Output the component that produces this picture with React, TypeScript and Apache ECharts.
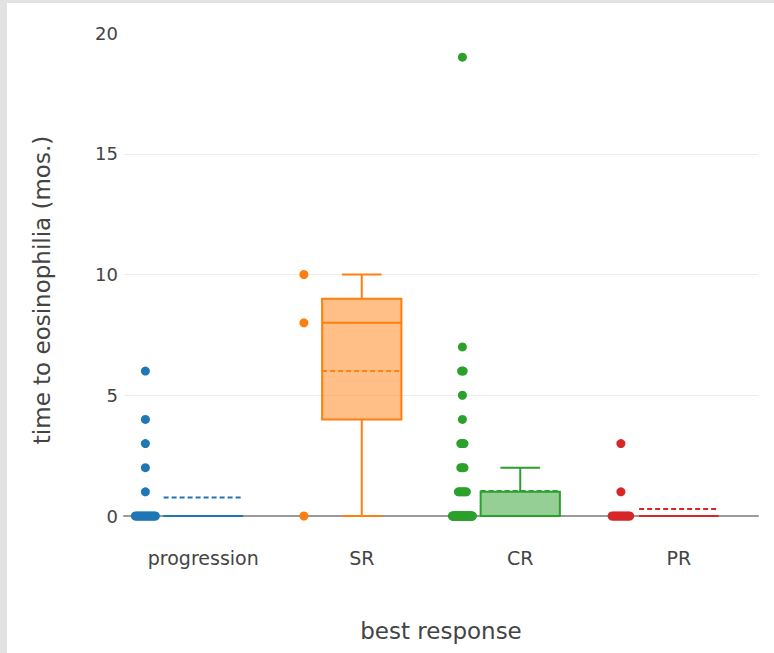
import React, { useEffect, useRef } from "react";
import * as echarts from "echarts";

// Best-response groups and their colours
const categories = ["progression", "SR", "CR", "PR"];
const colors = ["#1f77b4", "#ff7f0e", "#2ca02c", "#d62728"];

// Y axis ticks (months)
const yMin = 0;
const yMax = 20;
const yStep = 5;

// Individual observations: time to eosinophilia (months) per group
const progression = [
  0, 0, 0, 0, 0, 0, 0, 0, 0, 0, 0, 0, 0, 0, 0, 0,
  1, 2, 3, 4, 6,
];
const sr = [0, 8, 10];
const cr = [
  0, 0, 0, 0, 0, 0, 0, 0, 0, 0, 0, 0, 0, 0, 0, 0,
  0, 0, 0, 0, 0, 0, 0, 0, 0, 0, 0, 0, 0, 0, 0, 0,
  0, 0, 0, 0, 0, 0, 0, 0, 0, 0, 0, 0, 0, 0, 0, 0,
  1, 1, 1, 1, 1, 1,
  2, 2, 2,
  3, 3, 3,
  4, 5, 6, 6, 7, 19,
];
const pr = [0, 0, 0, 0, 0, 0, 0, 0, 0, 0, 0, 0, 1, 3];

const groups = [progression, sr, cr, pr];

const FONT = "DejaVu Sans, Liberation Sans, Arial, sans-serif";
const TEXT = "#444";

function quantile(sorted: number[], p: number) {
  const pos = p * (sorted.length - 1);
  const lo = Math.floor(pos);
  const hi = Math.ceil(pos);
  return sorted[lo] + (sorted[hi] - sorted[lo]) * (pos - lo);
}

// [lowWhisker, q1, median, q3, highWhisker, mean]
function boxStats(values: number[]) {
  const s = [...values].sort((a, b) => a - b);
  const q1 = quantile(s, 0.25);
  const med = quantile(s, 0.5);
  const q3 = quantile(s, 0.75);
  const iqr = q3 - q1;
  const lo = Math.min(...s.filter((v) => v >= q1 - 1.5 * iqr));
  const hi = Math.max(...s.filter((v) => v <= q3 + 1.5 * iqr));
  const mean = s.reduce((a, b) => a + b, 0) / s.length;
  return [lo, q1, med, q3, hi, mean];
}

// Points sit to the left of each box; repeated values are fanned out sideways
const POINT_SHIFT = -0.365; // in category units
const BAND_PX = 158.5;
function pointPositions(values: number[], idx: number) {
  const counts = new Map<number, number>();
  values.forEach((v) => counts.set(v, (counts.get(v) || 0) + 1));
  const seen = new Map<number, number>();
  return values.map((v) => {
    const c = counts.get(v) || 1;
    const k = seen.get(v) || 0;
    seen.set(v, k + 1);
    const spread = Math.min(20, 1.6 * (c - 1));
    const off = c > 1 ? (k / (c - 1) - 0.5) * spread : 0;
    return [idx + POINT_SHIFT + off / BAND_PX, v];
  });
}

export default function App() {
  const ref = useRef<HTMLDivElement>(null);

  useEffect(() => {
    if (!ref.current) return;
    const chart = echarts.init(ref.current, undefined, { renderer: "svg" });

    const boxData = groups.map((g, i) => [i, ...boxStats(g)]);

    const scatterSeries = groups.map((g, i) => ({
      type: "scatter",
      name: categories[i],
      xAxisIndex: 1,
      yAxisIndex: 0,
      clip: false,
      symbol: "circle",
      symbolSize: 9,
      itemStyle: { color: colors[i], opacity: 1 },
      data: pointPositions(g, i),
      z: 3,
    }));

    chart.setOption({
      animation: false,
      backgroundColor: "#ffffff",
      textStyle: { fontFamily: FONT },
      grid: { left: 117, right: 16, top: 30, bottom: 137 },
      xAxis: [
        {
          type: "category",
          data: categories,
          boundaryGap: true,
          axisLine: { show: true, lineStyle: { color: "#9a9a9a", width: 2 } },
          axisTick: { show: false },
          axisLabel: { margin: 32, fontSize: 19, color: TEXT, fontFamily: FONT },
          splitLine: { show: false },
        },
        {
          type: "value",
          min: -0.5,
          max: 3.5,
          show: false,
        },
      ],
      yAxis: {
        type: "value",
        min: yMin,
        max: yMax,
        interval: yStep,
        axisLine: { show: false },
        axisTick: { show: false },
        axisLabel: { margin: 6, fontSize: 18, color: TEXT, fontFamily: FONT },
        splitLine: {
          show: true,
          showMinLine: false,
          showMaxLine: false,
          lineStyle: { color: "#ececec", width: 1 },
        },
      },
      graphic: [
        {
          type: "text",
          x: 35,
          y: 287,
          rotation: Math.PI / 2,
          style: {
            text: "time to eosinophilia (mos.)",
            fontSize: 23,
            fontFamily: FONT,
            fill: TEXT,
            align: "center",
            verticalAlign: "middle",
          },
        },
        {
          type: "text",
          x: 434,
          y: 628,
          style: {
            text: "best response",
            fontSize: 23,
            fontFamily: FONT,
            fill: TEXT,
            align: "center",
            verticalAlign: "middle",
          },
        },
      ],
      series: [
        {
          type: "custom",
          xAxisIndex: 1,
          yAxisIndex: 0,
          encode: { x: 0, y: [1, 2, 3, 4, 5, 6] },
          data: boxData,
          z: 2,
          renderItem: (_params: any, api: any) => {
            const i = api.value(0);
            const color = colors[i];
            const fill = echarts.color.modifyAlpha(color, 0.5);
            const cx = api.coord([i, 0])[0];
            const w = api.size([0.5, 0])[0];
            const half = w / 2;
            const cap = w / 4;
            const y = (d: number) => api.coord([i, api.value(d)])[1];
            const yLo = y(1);
            const yQ1 = y(2);
            const yMed = y(3);
            const yQ3 = y(4);
            const yHi = y(5);
            const yMean = y(6);
            const line = (x1: number, y1: number, x2: number, y2: number, dash?: number[]) => ({
              type: "line",
              shape: { x1, y1, x2, y2 },
              style: { stroke: color, lineWidth: 2, lineDash: dash, fill: null },
            });
            return {
              type: "group",
              children: [
                {
                  type: "rect",
                  shape: { x: cx - half, y: yQ3, width: w, height: yQ1 - yQ3 },
                  style: { fill, stroke: color, lineWidth: 2 },
                },
                line(cx, yQ3, cx, yHi),
                line(cx - cap, yHi, cx + cap, yHi),
                line(cx, yQ1, cx, yLo),
                line(cx - cap, yLo, cx + cap, yLo),
                line(cx - half, yMed, cx + half, yMed),
                line(cx - half, yMean, cx + half, yMean, [5, 3]),
              ],
            };
          },
        },
        ...scatterSeries,
      ],
    });

    return () => chart.dispose();
  }, []);

  return (
    <div
      style={{
        position: "fixed",
        left: 0,
        top: 0,
        width: 774,
        height: 653,
        background: "#e2e2e2",
      }}
    >
      <div
        ref={ref}
        style={{
          position: "absolute",
          left: 7,
          top: 3,
          width: 767,
          height: 650,
          background: "#ffffff",
        }}
      />
    </div>
  );
}
